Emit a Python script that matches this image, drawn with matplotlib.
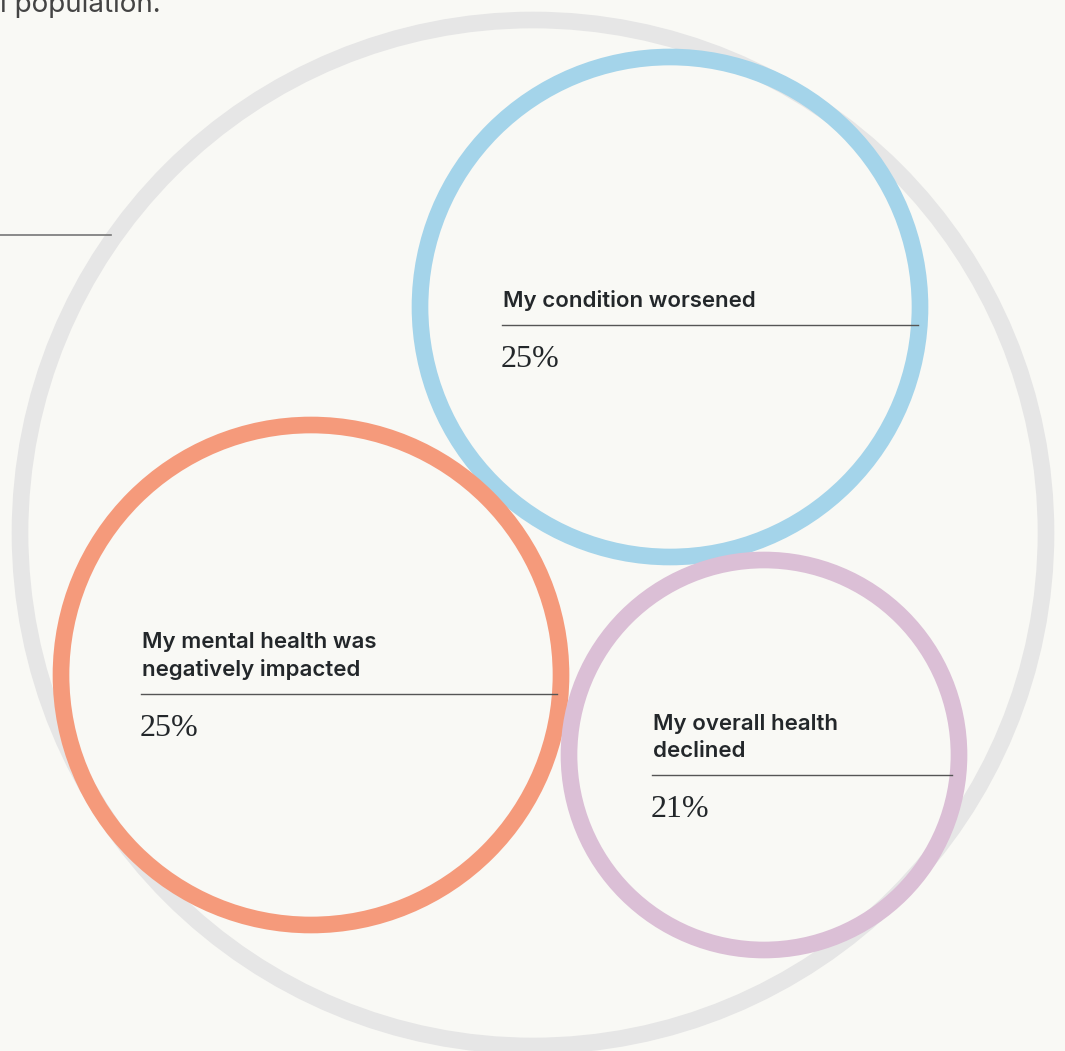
import matplotlib.pyplot as plt
from matplotlib.patches import Circle

# data
labels = ['My condition worsened',
          'My mental health was\nnegatively impacted',
          'My overall health\ndeclined']
values = [25, 25, 21]
colors = ['#a4d4ea', '#f59a7b', '#dbbfd6']

# layout (pixel coords of the 1065x1051 canvas)
centers = [(670, 307), (311, 675), (764, 755)]
radii = [250, 250, 195]
label_x = [503, 142, 653]
rule_y = [325, 694, 775]
rule_end = [918, 557, 952]

bg = '#f9f9f5'
ink = '#23272a'

fig = plt.figure(figsize=(10.65, 10.51), dpi=100, facecolor=bg)
ax = fig.add_axes([0, 0, 1, 1])
ax.set_facecolor(bg)
ax.set_xlim(0, 1065)
ax.set_ylim(1051, 0)
ax.set_aspect('equal')
ax.axis('off')

# outer population ring
ax.add_patch(Circle((533, 533), 513, fill=False, ec='#e6e6e6', lw=12))

for (cx, cy), r, c in zip(centers, radii, colors):
    ax.add_patch(Circle((cx, cy), r, fill=False, ec=c, lw=12))

for lab, v, x, ry, xe in zip(labels, values, label_x, rule_y, rule_end):
    ax.text(x, ry - 14, lab, ha='left', va='bottom', fontsize=16,
            family='Inter', weight='semibold', color=ink, linespacing=1.42)
    ax.plot([x - 1, xe], [ry, ry], color='#555555', lw=1)
    ax.text(x - 2, ry + 42, f'{v}%', ha='left', va='baseline', fontsize=23,
            family='Liberation Serif', color=ink)

# intro text and leader line, top-left (cut by the canvas edge as in the source)
ax.text(161, 12, 'l population.', ha='right', va='baseline',
        fontsize=20, family='Inter', color='#444444')
ax.plot([0, 111], [235, 235], color='#777777', lw=1.2)

plt.savefig('out.png', dpi=100, facecolor=bg)
